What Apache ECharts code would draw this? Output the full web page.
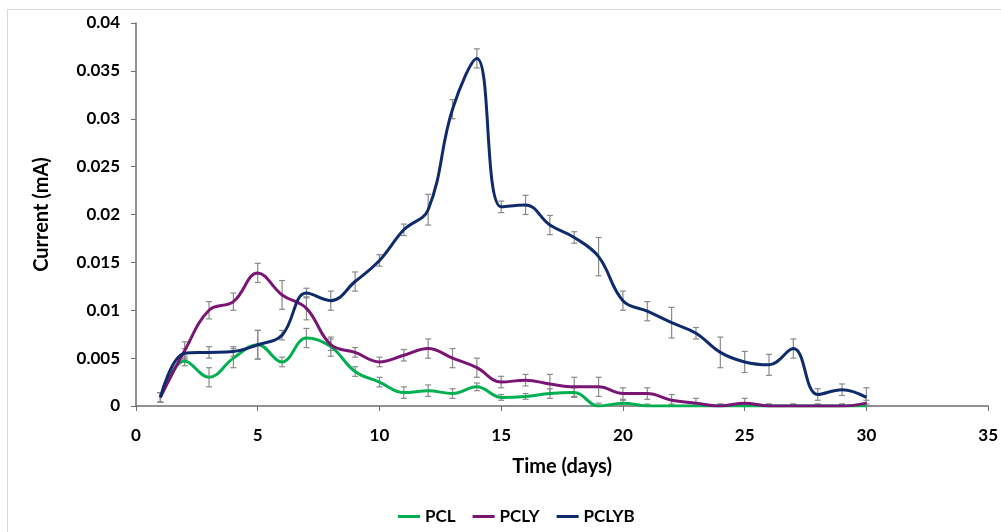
<!DOCTYPE html>
<html>
<head>
<meta charset="utf-8">
<script src="https://cdn.jsdelivr.net/npm/echarts@6/dist/echarts.min.js"></script>
<style>
    html, body { margin: 0; padding: 0; background: #fff; }
    #frame { position: absolute; left: 7px; top: 9px; width: 1100px; height: 600px;
             border-top: 1px solid #d9d9d9; border-left: 1px solid #d9d9d9; }
    #chart { position: absolute; left: 0; top: 0; width: 1001px; height: 532px; }
</style>
</head>
<body>
<div id="frame"></div>
<div id="chart"></div>
<script>
    // days 1..30
    var days = [1, 2, 3, 4, 5, 6, 7, 8, 9, 10, 11, 12, 13, 14, 15, 16, 17, 18, 19, 20,
                21, 22, 23, 24, 25, 26, 27, 28, 29, 30];

    var pcl = [0.0009, 0.0047, 0.003, 0.005, 0.0064, 0.0046, 0.0071, 0.0062, 0.0036, 0.0025,
               0.0014, 0.0016, 0.0013, 0.002, 0.0009, 0.001, 0.0013, 0.0014, 0, 0.0003,
               0, 0, 0, 0, 0, 0, 0, 0, 0, 0];
    var pclErr = [0.0005, 0.0005, 0.001, 0.001, 0.0015, 0.0005, 0.001, 0.001, 0.0005, 0.0005,
                  0.0006, 0.0006, 0.0005, 0.0004, 0.0003, 0.0003, 0.0005, 0.0005, 0.0003, 0.0003,
                  0.0002, 0.0002, 0.0002, 0.0002, 0.0002, 0.0002, 0.0002, 0.0002, 0.0002, 0.0002];

    var pcly = [0.0009, 0.0058, 0.01, 0.0109, 0.0139, 0.0116, 0.0102, 0.0064, 0.0056, 0.0046,
                0.0053, 0.006, 0.005, 0.004, 0.0025, 0.0027, 0.0023, 0.002, 0.002, 0.0013,
                0.0013, 0.0006, 0.0003, 0, 0.0003, 0, 0, 0, 0, 0.0003];
    var pclyErr = [0.0005, 0.0009, 0.0009, 0.0009, 0.001, 0.0015, 0.0012, 0.0006, 0.0005, 0.0005,
                   0.0006, 0.001, 0.001, 0.001, 0.0006, 0.0006, 0.001, 0.001, 0.001, 0.0006,
                   0.0006, 0.0006, 0.0005, 0.0002, 0.0005, 0.0002, 0.0002, 0.0002, 0.0002, 0.0003];

    var pclyb = [0.0009, 0.0055, 0.0056, 0.0057, 0.0064, 0.0074, 0.0118, 0.011, 0.013, 0.0152,
                 0.0184, 0.0205, 0.031, 0.0363, 0.0208, 0.021, 0.0189, 0.0176, 0.0156, 0.011,
                 0.0099, 0.0087, 0.0076, 0.0056, 0.0046, 0.0043, 0.006, 0.0012, 0.0017, 0.0009];
    var pclybErr = [0.0005, 0.0005, 0.0006, 0.0005, 0.0015, 0.0005, 0.0005, 0.001, 0.001, 0.0006,
                    0.0006, 0.0016, 0.001, 0.001, 0.0006, 0.001, 0.001, 0.0006, 0.002, 0.001,
                    0.001, 0.0016, 0.0006, 0.0016, 0.0011, 0.0011, 0.001, 0.0006, 0.0006, 0.001];

    var names = ['PCL', 'PCLY', 'PCLYB'];
    var colors = ['#00b050', '#7a1576', '#0f2b6b'];
    var font = 'Lato, "Open Sans", sans-serif';

    function pairs(vals) {
        return days.map(function (d, i) { return [d, vals[i]]; });
    }
    function errData(vals, errs) {
        return days.map(function (d, i) {
            return [d, Math.max(0, vals[i] - errs[i]), vals[i] + errs[i]];
        });
    }

    // draws one error bar with caps
    function renderErr(params, api) {
        var top = api.coord([api.value(0), api.value(2)]);
        var bot = api.coord([api.value(0), api.value(1)]);
        var w = 3;
        var style = { stroke: '#8a8a8a', lineWidth: 1.2 };
        return {
            type: 'group',
            children: [
                { type: 'line', shape: { x1: top[0], y1: top[1], x2: bot[0], y2: bot[1] }, style: style },
                { type: 'line', shape: { x1: top[0] - w, y1: top[1], x2: top[0] + w, y2: top[1] }, style: style },
                { type: 'line', shape: { x1: bot[0] - w, y1: bot[1], x2: bot[0] + w, y2: bot[1] }, style: style }
            ]
        };
    }

    var lines = [pcl, pcly, pclyb];
    var errs = [pclErr, pclyErr, pclybErr];
    var series = [];
    lines.forEach(function (vals, i) {
        series.push({
            name: names[i] + '_err',
            type: 'custom',
            renderItem: renderErr,
            data: errData(vals, errs[i]),
            z: 1,
            silent: true
        });
    });
    lines.forEach(function (vals, i) {
        series.push({
            name: names[i],
            type: 'line',
            data: pairs(vals),
            smooth: 0.4,
            showSymbol: false,
            lineStyle: { width: 3, color: colors[i] },
            itemStyle: { color: colors[i] },
            z: 3
        });
    });

    var chart = echarts.init(document.getElementById('chart'));
    chart.setOption({
        animation: false,
        textStyle: { fontFamily: font },
        grid: { left: 136, right: 11, top: 23, bottom: 126 },
        legend: {
            data: names,
            bottom: 2,
            left: 393,
            icon: 'rect',
            itemWidth: 22,
            itemHeight: 3,
            itemGap: 17,
            textStyle: { fontFamily: font, fontWeight: 'bold', fontSize: 17, color: '#000' }
        },
        xAxis: {
            type: 'value',
            min: 0, max: 35, interval: 5,
            name: 'Time (days)',
            nameLocation: 'middle',
            nameGap: 51,
            nameTextStyle: { fontFamily: font, fontWeight: 'bold', fontSize: 20, color: '#000' },
            splitLine: { show: false },
            axisLine: { lineStyle: { color: '#6e6e6e', width: 1.5 } },
            axisTick: { length: 5, lineStyle: { color: '#6e6e6e' } },
            axisLabel: { fontFamily: font, fontWeight: 'bold', fontSize: 17, color: '#000', margin: 21 }
        },
        yAxis: {
            type: 'value',
            min: 0, max: 0.04, interval: 0.005,
            name: 'Current (mA)',
            nameLocation: 'middle',
            nameGap: 84,
            nameTextStyle: { fontFamily: font, fontWeight: 'bold', fontSize: 20, color: '#000' },
            splitLine: { show: false },
            axisLine: { show: true, lineStyle: { color: '#6e6e6e', width: 1.5 } },
            axisTick: { show: true, length: 5, lineStyle: { color: '#6e6e6e' } },
            axisLabel: { fontFamily: font, fontWeight: 'bold', fontSize: 17, color: '#000', margin: 16 }
        },
        series: series
    });
</script>
</body>
</html>
